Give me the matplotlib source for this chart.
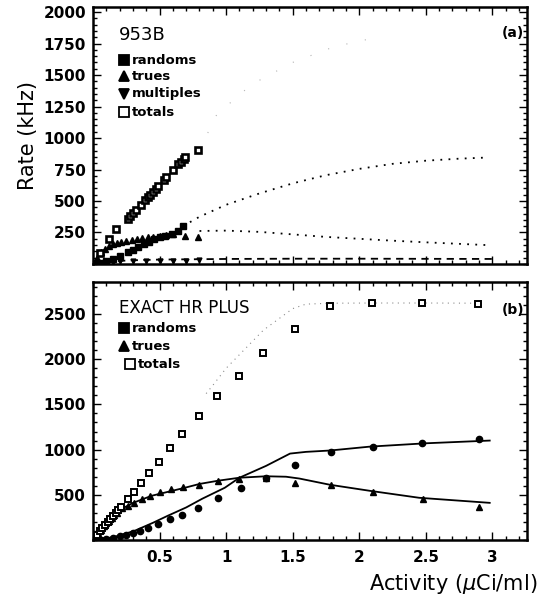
import numpy as np
import matplotlib
matplotlib.use("Agg")
import matplotlib.pyplot as plt
from matplotlib.ticker import MultipleLocator

# ---- panel (a): 953B ----
a_tot_x = [0.05, 0.12, 0.17, 0.26, 0.28, 0.30, 0.32, 0.36, 0.39, 0.41, 0.43, 0.45,
           0.47, 0.49, 0.53, 0.55, 0.60, 0.64, 0.66, 0.68, 0.69, 0.79]
a_tot_y = [90, 198, 275, 356, 378, 405, 425, 470, 505, 528, 550, 575,
           598, 620, 668, 690, 748, 790, 812, 835, 846, 902]
a_tru_x = [0.03, 0.06, 0.09, 0.12, 0.15, 0.18, 0.21, 0.25, 0.29, 0.33, 0.37, 0.41,
           0.45, 0.50, 0.55, 0.60, 0.69, 0.79]
a_tru_y = [45, 95, 120, 140, 155, 165, 175, 185, 192, 200, 207, 212,
           218, 225, 232, 240, 222, 213]
a_ran_x = [0.03, 0.06, 0.10, 0.15, 0.20, 0.26, 0.30, 0.34, 0.38, 0.42, 0.46, 0.50,
           0.54, 0.59, 0.64, 0.675]
a_ran_y = [5, 10, 20, 40, 65, 95, 115, 135, 155, 175, 195, 212,
           225, 237, 265, 300]
a_mul_x = [0.02, 0.05, 0.10, 0.15, 0.20, 0.30, 0.40, 0.50, 0.60, 0.70, 0.80]
a_mul_y = [5, 10, 15, 18, 20, 22, 24, 25, 26, 27, 28]

a_ranfit_x = [0.675, 0.8, 1.0, 1.25, 1.5, 1.75, 2.0, 2.25, 2.5, 2.75, 2.96]
a_ranfit_y = [300, 375, 470, 560, 640, 705, 755, 795, 820, 836, 845]
a_trufit_x = [0.8, 1.0, 1.25, 1.5, 1.75, 2.0, 2.25, 2.5, 2.75, 2.96]
a_trufit_y = [262, 265, 255, 235, 215, 200, 185, 172, 160, 150]
a_mulfit_x = [0.0, 0.25, 0.5, 1.0, 1.5, 2.0, 2.5, 3.0]
a_mulfit_y = [0, 28, 35, 40, 42, 42, 41, 40]
a_totfit_x = [0.8, 0.93, 1.19, 1.5, 1.8, 2.0, 2.15]
a_totfit_y = [905, 1187, 1424, 1600, 1720, 1770, 1800]

# ---- panel (b): EXACT HR PLUS ----
b_tot_x = [0.03, 0.05, 0.07, 0.09, 0.11, 0.13, 0.15, 0.17, 0.19, 0.21, 0.26, 0.307,
           0.363, 0.418, 0.493, 0.576, 0.67, 0.795, 0.93, 1.097, 1.277, 1.515,
           1.779, 2.093, 2.47, 2.89]
b_tot_y = [55, 95, 130, 165, 200, 235, 265, 300, 330, 365, 456, 533,
           633, 744, 867, 1022, 1178, 1367, 1589, 1811, 2067, 2333,
           2589, 2622, 2622, 2611]
b_tru_x = [0.02, 0.04, 0.06, 0.08, 0.10, 0.12, 0.14, 0.16, 0.18, 0.22, 0.26, 0.31,
           0.37, 0.425, 0.50, 0.585, 0.675, 0.80, 0.94, 1.10, 1.30, 1.515,
           1.785, 2.10, 2.48, 2.90]
b_tru_y = [40, 80, 115, 150, 185, 215, 245, 275, 300, 356, 378, 411,
           456, 489, 533, 567, 581, 611, 656, 678, 689, 633,
           611, 533, 456, 367]
b_ran_x = [0.03, 0.06, 0.10, 0.15, 0.20, 0.25, 0.30, 0.35, 0.41, 0.487, 0.575,
           0.67, 0.79, 0.94, 1.11, 1.30, 1.52, 1.79, 2.10, 2.47, 2.90]
b_ran_y = [2, 5, 10, 20, 40, 60, 78, 100, 133, 178, 233,
           278, 356, 467, 578, 689, 833, 978, 1033, 1078, 1122]

b_ranfit_x = [0.0, 0.15, 0.31, 0.45, 0.56, 0.7, 0.82, 0.99, 1.1, 1.3, 1.48, 1.6,
              1.78, 2.08, 2.5, 2.98]
b_ranfit_y = [0, 30, 100, 190, 267, 360, 456, 578, 689, 820, 956, 975,
              990, 1033, 1070, 1100]
b_trufit_x = [0.0, 0.05, 0.1, 0.15, 0.215, 0.3, 0.44, 0.69, 0.8, 0.94, 1.1, 1.3,
              1.45, 1.55, 1.78, 2.08, 2.45, 2.98]
b_trufit_y = [0, 110, 200, 280, 344, 410, 489, 578, 620, 656, 689, 705,
              700, 680, 611, 544, 467, 411]
b_totfit_x = [0.85, 0.9, 1.0, 1.28, 1.5, 1.6, 1.8, 2.1, 2.5, 2.9]
b_totfit_y = [1620, 1711, 1900, 2322, 2560, 2610, 2620, 2622, 2622, 2620]

a_yticks = [250, 500, 750, 1000, 1250, 1500, 1750, 2000]
b_yticks = [500, 1000, 1500, 2000, 2500]
b_xticks = [0.5, 1, 1.5, 2, 2.5, 3]
b_xticklabels = ["0.5", "1", "1.5", "2", "2.5", "3"]

plt.rcParams['font.family'] = ['DejaVu Sans']

fig = plt.figure(figsize=(5.4, 6.03), dpi=100)
ax1 = fig.add_axes([0.1722, 0.5622, 0.8037, 0.4262])
ax2 = fig.add_axes([0.1722, 0.1045, 0.8037, 0.4279])


def style_axes(ax):
    for s in ax.spines.values():
        s.set_linewidth(1.8)
    ax.tick_params(which='both', direction='in', top=True, right=True, width=1.0)
    ax.tick_params(which='major', length=6, labelsize=11)
    ax.tick_params(axis='y', which='major', pad=5)
    ax.tick_params(axis='x', which='major', pad=7)
    ax.tick_params(which='minor', length=3)
    for lab in ax.get_yticklabels() + ax.get_xticklabels():
        lab.set_fontweight('bold')


# panel (a)
ax1.plot(a_totfit_x, a_totfit_y, color='0.7', lw=0.8, linestyle=(0, (1, 16)))
ax1.plot(a_ranfit_x, a_ranfit_y, color='k', lw=1.3, linestyle=(0, (1, 3.5)))
ax1.plot(a_trufit_x, a_trufit_y, color='k', lw=1.3, linestyle=(0, (1, 3.5)))
ax1.plot(a_mulfit_x, a_mulfit_y, color='k', lw=1.3, linestyle=(0, (4, 3)))
ax1.plot(a_mul_x, a_mul_y, 'v', color='k', ms=3.5, ls='none')
ax1.plot(a_ran_x, a_ran_y, 's', color='k', ms=4.5, ls='none')
ax1.plot(a_tru_x, a_tru_y, '^', color='k', ms=4.5, ls='none')
ax1.plot(a_tot_x, a_tot_y, 's', mfc='white', mec='k', mew=1.9, ms=5, ls='none')
ax1.set_xlim(0, 3.26)
ax1.set_ylim(0, 2040)
ax1.set_yticks(a_yticks)
ax1.yaxis.set_minor_locator(MultipleLocator(50))
ax1.set_xticks(b_xticks)
ax1.xaxis.set_minor_locator(MultipleLocator(0.1))
ax1.set_xticklabels([])
style_axes(ax1)
ax1.set_ylabel("Rate (kHz)", fontsize=15, labelpad=4)
ax1.text(0.993, 0.9, "(a)", transform=ax1.transAxes, ha='right', va='center',
         fontsize=10, fontweight='bold')

# panel (b)
ax2.plot(b_totfit_x, b_totfit_y, color='0.55', lw=0.8, linestyle=(0, (1, 4)))
ax2.plot(b_ranfit_x, b_ranfit_y, color='k', lw=1.3)
ax2.plot(b_trufit_x, b_trufit_y, color='k', lw=1.3)
ax2.plot(b_ran_x, b_ran_y, 'o', color='k', ms=4.5, ls='none')
ax2.plot(b_tru_x, b_tru_y, '^', color='k', ms=4, ls='none')
ax2.plot(b_tot_x, b_tot_y, 's', mfc='white', mec='k', mew=1.4, ms=4.5, ls='none')
ax2.set_xlim(0, 3.26)
ax2.set_ylim(0, 2855)
ax2.set_yticks(b_yticks)
ax2.yaxis.set_minor_locator(MultipleLocator(100))
ax2.set_xticks(b_xticks)
ax2.set_xticklabels(b_xticklabels)
ax2.xaxis.set_minor_locator(MultipleLocator(0.1))
style_axes(ax2)
ax2.text(0.993, 0.89, "(b)", transform=ax2.transAxes, ha='right', va='center',
         fontsize=10, fontweight='bold')

fig.text(537 / 540, 1 - 584 / 603, "Activity ($\\mu$Ci/ml)", ha='right', va='center',
         fontsize=15)


# in-plot legends, placed by pixel
def px(x, y):
    return x / 540, 1 - y / 603


fig.text(*px(119, 35), "953B", fontsize=13, va='center', ha='left')
leg_a = [('s', 'k', 'randoms', 60), ('^', 'k', 'trues', 76),
         ('v', 'k', 'multiples', 94), ('s', 'white', 'totals', 112)]
for m, fc, lab, y in leg_a:
    fig.lines.append(plt.Line2D([px(124, y)[0]], [px(124, y)[1]], marker=m, mfc=fc, mec='k',
                                mew=1.3, ms=7, transform=fig.transFigure, figure=fig))
    fig.text(*px(132, y), lab, fontsize=9.5, fontweight='bold', va='center', ha='left')

fig.text(*px(119, 308), "EXACT HR PLUS", fontsize=12, va='center', ha='left')
leg_b = [('s', 'k', 'randoms', 328, 124), ('^', 'k', 'trues', 346, 124),
         ('s', 'white', 'totals', 364, 130)]
for m, fc, lab, y, xm in leg_b:
    fig.lines.append(plt.Line2D([px(xm, y)[0]], [px(xm, y)[1]], marker=m, mfc=fc, mec='k',
                                mew=1.3, ms=7, transform=fig.transFigure, figure=fig))
    fig.text(*px(xm + 8, y), lab, fontsize=9.5, fontweight='bold', va='center', ha='left')

fig.savefig("out.png", dpi=100)
